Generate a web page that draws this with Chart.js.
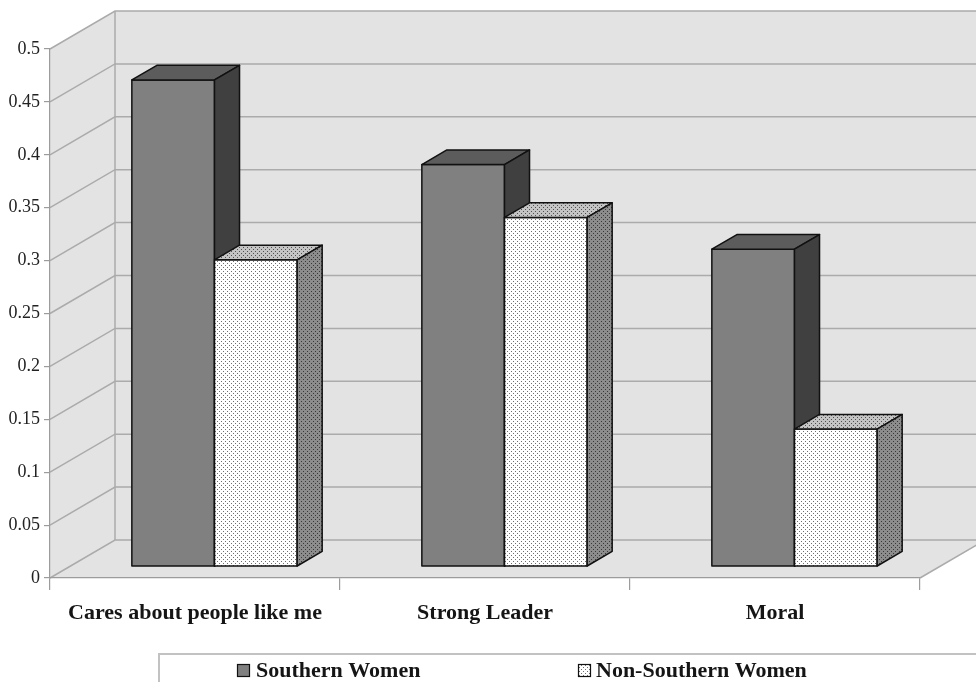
<!DOCTYPE html>
<html>
<head>
<meta charset="utf-8">
<script src="https://cdn.jsdelivr.net/npm/chart.js@4/dist/chart.umd.min.js"></script>
<style>
  html, body { margin: 0; padding: 0; background: #ffffff; }
  #wrap { width: 976px; height: 682px; }
</style>
</head>
<body>
<div id="wrap"><canvas id="chart" width="976" height="682"></canvas></div>
<script>
// Shares of women choosing each candidate trait
const categories = ['Cares about people like me', 'Strong Leader', 'Moral'];
const southernWomen = [0.46, 0.38, 0.30];
const nonSouthernWomen = [0.29, 0.33, 0.13];
const seriesNames = ['Southern Women', 'Non-Southern Women'];
const yTickLabels = ['0', '0.05', '0.1', '0.15', '0.2', '0.25', '0.3', '0.35', '0.4', '0.45', '0.5'];

// Perspective of the box: offset of the back wall from the front plane
const DEPTH_DX = 65;
const DEPTH_DY = 38;
// Bars sit part-way into the box
const BAR_FRONT = 0.3;
const BAR_DEPTH = 0.385;

const WALL_FILL = '#e3e3e3';
const WALL_LINE = '#ababab';
const AXIS_LINE = '#9c9c9c';

// Stipple fill: a base colour with a staggered dot grid
function stipple(base, dot) {
  const c = document.createElement('canvas');
  c.width = 4; c.height = 4;
  const g = c.getContext('2d');
  g.fillStyle = base;
  g.fillRect(0, 0, 4, 4);
  g.fillStyle = dot;
  g.fillRect(1, 1, 1, 1);
  g.fillRect(3, 3, 1, 1);
  return g.createPattern(c, 'repeat');
}
const ctxMain = document.getElementById('chart').getContext('2d');

const faceStyles = [
  { front: '#808080', top: '#5c5c5c', side: '#404040' },
  { front: stipple('#ffffff', '#6e6e6e'), top: stipple('#c4c4c4', '#505050'), side: stipple('#8c8c8c', '#383838') }
];

function poly(ctx, pts) {
  ctx.beginPath();
  ctx.moveTo(pts[0][0], pts[0][1]);
  for (let i = 1; i < pts.length; i++) ctx.lineTo(pts[i][0], pts[i][1]);
  ctx.closePath();
}

// Walls, floor and gridlines of the 3-D box, drawn beneath the axes
const boxPlugin = {
  id: 'box3d',
  beforeDraw(chart) {
    const { ctx, chartArea: a, scales } = chart;
    const y = scales.y;
    const L = a.left, R = a.right, T = a.top, B = a.bottom;
    ctx.save();
    ctx.fillStyle = WALL_FILL;
    // side wall
    poly(ctx, [[L, T], [L + DEPTH_DX, T - DEPTH_DY], [L + DEPTH_DX, B - DEPTH_DY], [L, B]]);
    ctx.fill();
    // back wall
    ctx.fillRect(L + DEPTH_DX, T - DEPTH_DY, R - L, B - T);
    // floor
    poly(ctx, [[L, B], [L + DEPTH_DX, B - DEPTH_DY], [R + DEPTH_DX, B - DEPTH_DY], [R, B]]);
    ctx.fill();

    ctx.strokeStyle = WALL_LINE;
    ctx.lineWidth = 1.5;
    y.ticks.forEach(t => {
      const py = y.getPixelForValue(t.value);
      ctx.beginPath();
      ctx.moveTo(L, py);
      ctx.lineTo(L + DEPTH_DX, py - DEPTH_DY);
      ctx.lineTo(R + DEPTH_DX, py - DEPTH_DY);
      ctx.stroke();
    });
    // back corner edge
    ctx.beginPath();
    ctx.moveTo(L + DEPTH_DX, T - DEPTH_DY);
    ctx.lineTo(L + DEPTH_DX, B - DEPTH_DY);
    ctx.stroke();
    // floor right edge
    ctx.beginPath();
    ctx.moveTo(R, B);
    ctx.lineTo(R + DEPTH_DX, B - DEPTH_DY);
    ctx.stroke();
    ctx.restore();
  }
};

// Extruded bars from the bar elements' own geometry
const barPlugin = {
  id: 'bars3d',
  afterDatasetsDraw(chart) {
    const ctx = chart.ctx;
    const fdx = DEPTH_DX * BAR_FRONT, fdy = DEPTH_DY * BAR_FRONT;
    const bdx = DEPTH_DX * BAR_DEPTH, bdy = DEPTH_DY * BAR_DEPTH;
    ctx.save();
    ctx.lineWidth = 1.5;
    ctx.lineJoin = 'round';
    ctx.strokeStyle = '#111111';
    for (let i = 0; i < categories.length; i++) {
      chart.data.datasets.forEach((ds, d) => {
        const el = chart.getDatasetMeta(d).data[i];
        const p = el.getProps(['x', 'y', 'base', 'width'], true);
        const x0 = p.x - p.width / 2 + fdx, x1 = p.x + p.width / 2 + fdx;
        const yt = p.y - fdy, yb = p.base - fdy;
        const st = faceStyles[d];
        // front
        ctx.fillStyle = st.front;
        poly(ctx, [[x0, yt], [x1, yt], [x1, yb], [x0, yb]]);
        ctx.fill(); ctx.stroke();
        // top
        ctx.fillStyle = st.top;
        poly(ctx, [[x0, yt], [x0 + bdx, yt - bdy], [x1 + bdx, yt - bdy], [x1, yt]]);
        ctx.fill(); ctx.stroke();
        // side
        ctx.fillStyle = st.side;
        poly(ctx, [[x1, yt], [x1 + bdx, yt - bdy], [x1 + bdx, yb - bdy], [x1, yb]]);
        ctx.fill(); ctx.stroke();
      });
    }
    ctx.restore();
  }
};

// Framed legend along the bottom
const legendPlugin = {
  id: 'frameLegend',
  afterDraw(chart) {
    const ctx = chart.ctx;
    ctx.save();
    ctx.strokeStyle = '#c2c2c2';
    ctx.lineWidth = 2;
    ctx.strokeRect(159, 654, 900, 60);
    const items = [{ sx: 237, tx: 256 }, { sx: 578, tx: 596 }];
    ctx.font = 'bold 22px "Liberation Serif", serif';
    ctx.textBaseline = 'alphabetic';
    ctx.textAlign = 'left';
    chart.data.datasets.forEach((ds, d) => {
      const it = items[d];
      ctx.fillStyle = faceStyles[d].front;
      ctx.fillRect(it.sx, 664, 13, 13);
      ctx.strokeStyle = '#111111';
      ctx.lineWidth = 1.2;
      ctx.strokeRect(it.sx + 0.5, 664.5, 12, 12);
      ctx.fillStyle = '#151515';
      ctx.fillText(ds.label, it.tx, 677);
    });
    ctx.restore();
  }
};

new Chart(ctxMain, {
  type: 'bar',
  data: {
    labels: categories,
    datasets: [
      { label: seriesNames[0], data: southernWomen, backgroundColor: 'rgba(0,0,0,0)', borderWidth: 0 },
      { label: seriesNames[1], data: nonSouthernWomen, backgroundColor: 'rgba(0,0,0,0)', borderWidth: 0 }
    ]
  },
  options: {
    responsive: false,
    animation: false,
    events: [],
    layout: { padding: { left: 0, right: 56, top: 49, bottom: 0 } },
    datasets: { bar: { barPercentage: 1, categoryPercentage: 0.57 } },
    plugins: { legend: { display: false }, tooltip: { enabled: false } },
    scales: {
      x: {
        offset: true,
        grid: { offset: true, drawOnChartArea: false, tickLength: 12, color: AXIS_LINE, lineWidth: 1.2 },
        border: { color: AXIS_LINE, width: 1.2 },
        ticks: { padding: 10, color: '#151515', font: { family: '"Liberation Serif", serif', size: 22, weight: 'bold' }, maxRotation: 0, autoSkip: false },
        afterFit(s) { s.height = 104; }
      },
      y: {
        min: 0,
        max: 0.5,
        grid: { drawOnChartArea: false, tickLength: 6, color: AXIS_LINE, lineWidth: 1.2 },
        border: { color: AXIS_LINE, width: 1.2 },
        ticks: {
          stepSize: 0.05,
          padding: 4,
          color: '#222222',
          font: { family: '"Liberation Serif", serif', size: 18 },
          callback: (v, i) => yTickLabels[i]
        },
        afterFit(s) { s.width = 50; }
      }
    }
  },
  plugins: [boxPlugin, barPlugin, legendPlugin]
});
</script>
</body>
</html>
